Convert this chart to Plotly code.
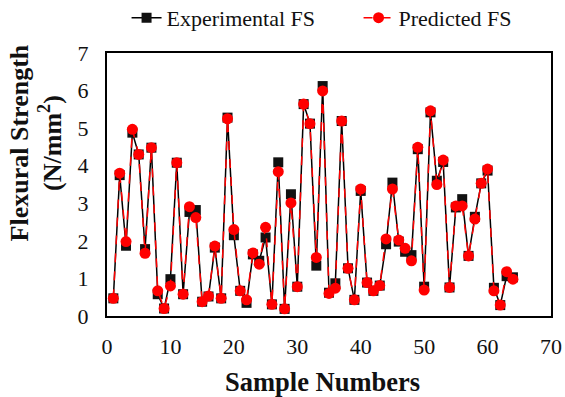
import plotly.graph_objects as go

samples = list(range(1, 65))
experimental_fs = [0.47, 3.75, 1.87, 4.88, 4.30, 1.78, 4.48, 0.58, 0.20, 0.98,
                   4.08, 0.58, 2.77, 2.82, 0.38, 0.52, 1.82, 0.47, 5.28, 2.15,
                   0.67, 0.35, 1.64, 1.47, 2.09, 0.31, 4.09, 0.19, 3.24, 0.78,
                   5.64, 5.12, 1.34, 6.12, 0.62, 0.87, 5.19, 1.27, 0.43, 3.33,
                   0.89, 0.67, 0.81, 1.91, 3.55, 1.98, 1.71, 1.62, 4.44, 0.78,
                   5.42, 3.60, 4.10, 0.76, 2.89, 3.11, 1.60, 2.64, 3.53, 3.87,
                   0.75, 0.29, 1.06, 1.03]
predicted_fs = [0.47, 3.80, 1.98, 4.97, 4.30, 1.67, 4.48, 0.67, 0.20, 0.80,
                4.08, 0.58, 2.91, 2.62, 0.38, 0.53, 1.86, 0.47, 5.25, 2.30,
                0.67, 0.43, 1.68, 1.38, 2.36, 0.31, 3.84, 0.19, 3.01, 0.78,
                5.64, 5.12, 1.56, 5.99, 0.60, 0.74, 5.19, 1.27, 0.43, 3.38,
                0.89, 0.67, 0.81, 2.05, 3.38, 2.02, 1.80, 1.47, 4.49, 0.69,
                5.46, 3.50, 4.15, 0.76, 2.93, 2.93, 1.60, 2.58, 3.53, 3.91,
                0.67, 0.29, 1.18, 0.98]

series_names = ["Experimental FS", "Predicted FS"]
x_title = "Sample Numbers"
y_title = "Flexural Strength<br>(N/mm<sup>2</sup>)"

serif = "Liberation Serif, Times New Roman, serif"
gap = "\u00a0" * 7  # extra space after the first legend entry

fig = go.Figure()
fig.add_trace(go.Scatter(
    x=samples, y=experimental_fs, mode="lines+markers", name=series_names[0] + gap,
    line=dict(color="black", width=1.5),
    marker=dict(symbol="square", size=10, color="#111111"),
))
fig.add_trace(go.Scatter(
    x=samples, y=predicted_fs, mode="lines+markers", name=series_names[1],
    line=dict(color="#ff0000", width=1.5, dash="dash"),
    marker=dict(symbol="circle", size=11, color="#ff0000"),
))

fig.update_layout(
    width=565, height=397,
    margin=dict(l=107, r=14, t=53, b=81),
    paper_bgcolor="white", plot_bgcolor="white",
    font=dict(family=serif, size=20, color="#111111"),
    showlegend=True,
    legend=dict(orientation="h", x=0.224, xanchor="left", xref="container",
                y=0.955, yanchor="middle", yref="container",
                font=dict(family=serif, size=22, color="#111111"),
                bgcolor="rgba(0,0,0,0)", tracegroupgap=0),
    xaxis=dict(range=[0, 70], dtick=10, showgrid=False, zeroline=False,
               showline=True, linecolor="black", linewidth=2, mirror=True,
               automargin=False,
               ticks="", tickfont=dict(family=serif, size=22), ticklabelstandoff=10),
    yaxis=dict(range=[0, 7], dtick=1, showgrid=False, zeroline=False,
               showline=True, linecolor="black", linewidth=2, mirror=True,
               automargin=False,
               ticks="", tickfont=dict(family=serif, size=22), ticklabelstandoff=12),
    annotations=[
        dict(text="<b>" + x_title + "</b>", xref="paper", yref="paper",
             x=0.486, y=-0.251, xanchor="center", yanchor="middle", showarrow=False,
             font=dict(family=serif, size=26.5, color="#111111")),
        dict(text="<b>" + y_title + "</b>", xref="paper", yref="paper",
             x=-0.16, y=0.66, xanchor="center", yanchor="middle", showarrow=False,
             textangle=-90,
             font=dict(family=serif, size=26, color="#111111")),
    ],
)

fig.write_html("out.html")
